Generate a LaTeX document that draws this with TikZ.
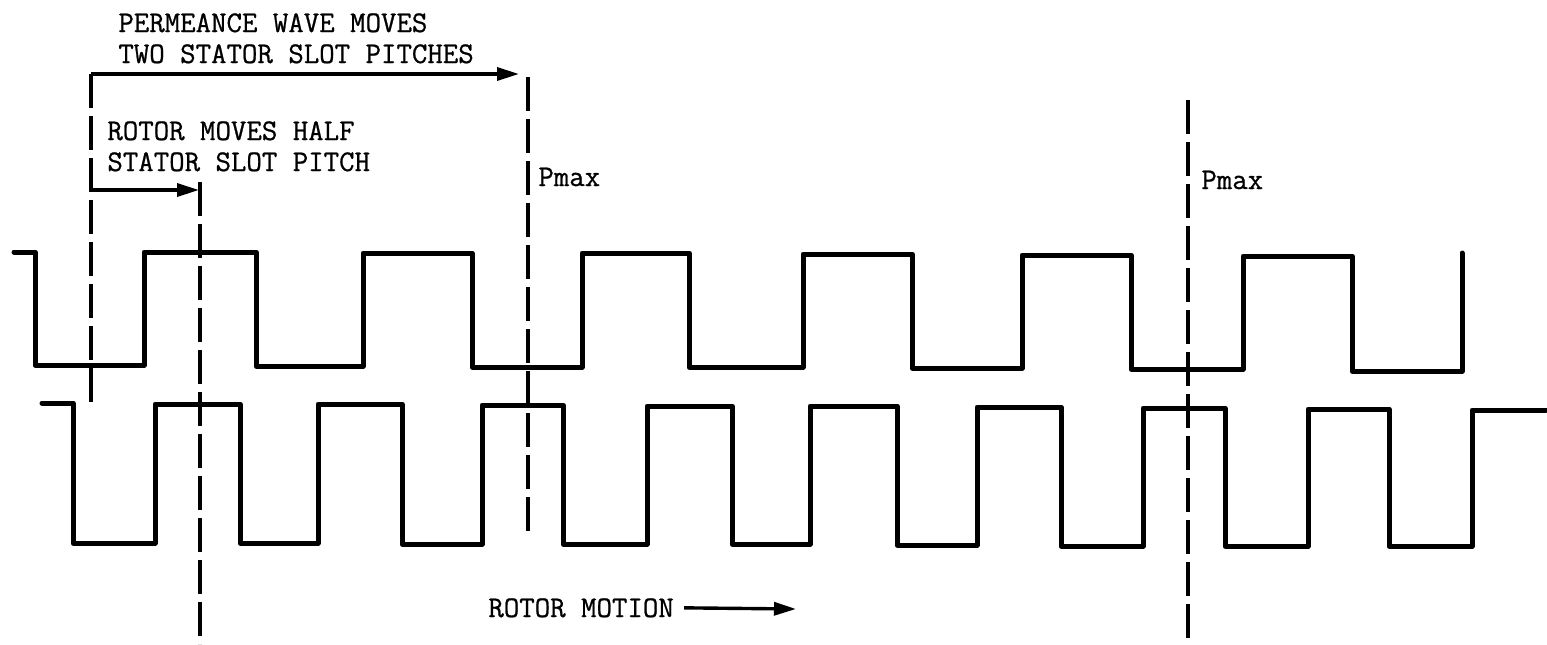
\documentclass[tikz,border=0pt]{standalone}
\usepackage{fontspec}
\setmonofont{Latin Modern Mono}[FakeBold=0.8]
\usetikzlibrary{arrows.meta}
\begin{document}
\begin{tikzpicture}[x=0.5pt,y=-0.5pt,
  wave/.style={line width=2.5pt, line join=round, line cap=round},
  guide/.style={line width=1.6pt, dash pattern=on 17pt off 4pt},
  dimarrow/.style={line width=1.7pt, -{Triangle[length=11pt,width=6.5pt]}},
  lbl/.style={inner sep=0pt, anchor=base west, font=\fontsize{15}{18}\selectfont\ttfamily}]
\useasboundingbox (0,0) rectangle (1547,644);

% labels
\node[lbl] (perm1) at (118,32) {PERMEANCE WAVE MOVES};
\node[lbl] (perm2) at (118,63) {TWO STATOR SLOT PITCHES};
\node[lbl] (rot1) at (107,140) {ROTOR MOVES HALF};
\node[lbl] (rot2) at (107,171) {STATOR SLOT PITCH};
\node[lbl] (pmax1) at (538,186) {Pmax};
\node[lbl] (pmax2) at (1201,189) {Pmax};
\node[lbl] (motion) at (488,617) {ROTOR MOTION};

% reference coordinates
\coordinate (d1top) at (91,74);
\coordinate (d1bot) at (91,405);
\coordinate (d2top) at (528,77);
\coordinate (d2bot) at (528,532);
\coordinate (d3top) at (200,182);
\coordinate (d3bot) at (200,644);
\coordinate (d4top) at (1188,100);
\coordinate (d4bot) at (1188,644);
\coordinate (a1end) at (519,74);
\coordinate (a2start) at (91,190);
\coordinate (a2end) at (199,190);
\coordinate (mend) at (796,609);

% dashed guide lines
\draw[guide] (d1top) -- (d1bot);
\draw[guide] (d2top) -- (d2bot);
\draw[guide] (d3top) -- (d3bot);
\draw[guide] (d4top) -- (d4bot);

% arrows
\draw[dimarrow] (d1top) -- (a1end);
\draw[dimarrow] (a2start) -- (a2end);
\draw[dimarrow] ([xshift=5pt]motion.east) -- (mend);

% stator permeance wave (top)
\draw[wave] (14,252) -- (35,252) -- (35,365) -- (144,365) -- (144,252)
  -- (256,252) -- (256,366) -- (363,366) -- (363,253) -- (472,253)
  -- (472,367) -- (582,367) -- (582,253) -- (689,253) -- (689,367)
  -- (803,367) -- (803,254) -- (912,254) -- (912,368) -- (1022,368)
  -- (1022,255) -- (1131,255) -- (1131,369) -- (1243,369) -- (1243,256)
  -- (1352,256) -- (1352,371) -- (1462,371) -- (1462,253);

% rotor permeance wave (bottom)
\draw[wave] (42,403) -- (73,403) -- (73,543) -- (155,543) -- (155,404)
  -- (240,404) -- (240,543) -- (318,543) -- (318,404) -- (402,404)
  -- (402,544) -- (482,544) -- (482,405) -- (563,405) -- (563,544)
  -- (647,544) -- (647,406) -- (732,406) -- (732,544) -- (810,544)
  -- (810,406) -- (897,406) -- (897,545) -- (977,545) -- (977,407)
  -- (1061,407) -- (1061,546) -- (1143,546) -- (1143,408) -- (1225,408)
  -- (1225,546) -- (1308,546) -- (1308,409) -- (1389,409) -- (1389,546)
  -- (1472,546) -- (1472,410) -- (1546,410);
\end{tikzpicture}
\end{document}
